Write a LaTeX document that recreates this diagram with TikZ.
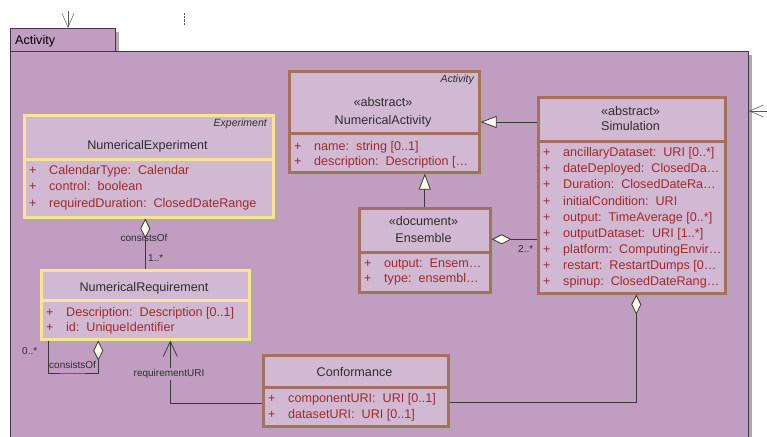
\documentclass[tikz,border=0pt]{standalone}
\usepackage{fontspec}
\setmainfont{Liberation Sans}
\usepackage{xcolor}
\usetikzlibrary{arrows.meta,shadows}
\definecolor{pkgfill}{HTML}{C19DC2}
\definecolor{pkgline}{HTML}{3C3C3C}
\definecolor{clsfill}{HTML}{D1B9D3}
\definecolor{brownc}{HTML}{A66F5E}
\definecolor{yellowc}{HTML}{F9E394}
\definecolor{shadowc}{HTML}{ADA9AD}
\definecolor{attrred}{HTML}{A02A2A}
\definecolor{namec}{HTML}{2E2E2E}
\definecolor{cream}{HTML}{FFFDE8}
\definecolor{conline}{HTML}{3A3A3A}
\def\pl{\makebox[20pt][l]{+}}
\def\big{\fontsize{12.6}{15}\selectfont}
\tikzset{pkg/.style={draw=pkgline, fill=pkgfill, line width=0.9pt, inner sep=0pt, anchor=north west,
    drop shadow={shadow xshift=3.5pt, shadow yshift=-3.5pt, fill=shadowc, opacity=1}}}
\tikzset{clsbox/.style={draw=#1, fill=clsfill, line width=2.6pt, inner sep=0pt, anchor=north west,
    drop shadow={shadow xshift=3.5pt, shadow yshift=-3.5pt, fill=shadowc, opacity=1}}}
\tikzset{cname/.style={font=\big, text=namec, inner sep=0pt, anchor=base}}
\tikzset{stereo/.style={font=\fontsize{10.5}{12}\selectfont\itshape, text=namec, inner sep=0pt, anchor=base east}}
\tikzset{attr/.style={font=\big, text=attrred, inner sep=0pt, anchor=base west}}
\tikzset{lbl/.style={font=\fontsize{10}{12}\selectfont, text=namec, inner sep=0pt}}
\tikzset{gen/.style={draw=conline, line width=0.8pt, -{Triangle[length=16pt, width=12pt, fill=cream]}}}
\tikzset{agg/.style={draw=conline, line width=0.8pt, {Diamond[length=20pt, width=10pt, fill=cream]}-}}
\tikzset{assoc/.style={draw=conline, line width=0.8pt, -{Straight Barb[length=15pt, width=14pt]}}}
\tikzset{dep/.style={draw=black!65, line width=0.5pt, -{Straight Barb[length=14pt, width=12pt]}}}
\begin{document}
\begin{tikzpicture}[x=1pt, y=-1pt]
      \clip (0,0) rectangle (767,436);
      % package
      \node[pkg, minimum width=105pt, minimum height=23pt] (tab) at (10,28) {};
      \node[pkg, minimum width=738pt, minimum height=400pt] (pkg) at (10,51) {};
      \node[font=\big, inner sep=0pt, anchor=base west] (tabname) at (15,45) {Activity};
      \coordinate (tin) at (68,11);
      \draw[dep] (tin) -- (tin |- tab.north);
      \coordinate (dt1) at (184,13);
      \coordinate (dt2) at (184,25);
      \draw[black!65, densely dotted] (dt1) -- (dt2);
      \coordinate (rin) at (767,111);
      \draw[dep] (rin) -- (rin -| pkg.east);
      % NumericalActivity
      \node[clsbox=brownc, minimum width=190pt, minimum height=62pt] (na) at (288,70) {};
      \node[clsbox=brownc, minimum width=190pt, minimum height=39pt] (naa) at (288,132) {};
      \node[stereo] (na-s) at (474,82.5) {Activity};
      \node[cname] (na-t) at (383,106.7) {«abstract»};
      \node[cname] (na-n) at (383,124) {NumericalActivity};
      \node[attr] (na-a1) at (294,150.5) {\pl name:\ \ string [0..1]};
      \node[attr] (na-a2) at (294,165.5) {\pl description:\ \ Description […};
      % Simulation
      \node[clsbox=brownc, minimum width=187pt, minimum height=44pt] (sim) at (537,96) {};
      \node[clsbox=brownc, minimum width=187pt, minimum height=152pt] (sima) at (537,140) {};
      \node[cname] (sim-t) at (630.5,115) {«abstract»};
      \node[cname] (sim-n) at (630.5,130.7) {Simulation};
      \node[attr] (sim-a1) at (543,156.7) {\pl ancillaryDataset:\ \ URI [0..*]};
      \node[attr] (sim-a2) at (543,172.8) {\pl dateDeployed:\ \ ClosedDa…};
      \node[attr] (sim-a3) at (543,188.9) {\pl Duration:\ \ ClosedDateRa…};
      \node[attr] (sim-a4) at (543,205) {\pl initialCondition:\ \ URI};
      \node[attr] (sim-a5) at (543,221.1) {\pl output:\ \ TimeAverage [0..*]};
      \node[attr] (sim-a6) at (543,237.2) {\pl outputDataset:\ \ URI [1..*]};
      \node[attr] (sim-a7) at (543,253.3) {\pl platform:\ \ ComputingEnvir…};
      \node[attr] (sim-a8) at (543,269.4) {\pl restart:\ \ RestartDumps [0…};
      \node[attr] (sim-a9) at (543,285.5) {\pl spinup:\ \ ClosedDateRang…};
      % NumericalExperiment
      \node[clsbox=yellowc, minimum width=249pt, minimum height=44pt] (ne) at (23,114) {};
      \node[clsbox=yellowc, minimum width=249pt, minimum height=58pt] (nea) at (23,158) {};
      \node[stereo] (ne-s) at (267,126.5) {Experiment};
      \node[cname] (ne-n) at (147.5,149) {NumericalExperiment};
      \node[attr] (ne-a1) at (29,174) {\pl CalendarType:\ \ Calendar};
      \node[attr] (ne-a2) at (29,190.5) {\pl control:\ \ boolean};
      \node[attr] (ne-a3) at (29,207) {\pl requiredDuration:\ \ ClosedDateRange};
      % NumericalRequirement
      \node[clsbox=yellowc, minimum width=208pt, minimum height=30pt] (nr) at (40,269) {};
      \node[clsbox=yellowc, minimum width=208pt, minimum height=39pt] (nra) at (40,299) {};
      \node[cname] (nr-n) at (144,291) {NumericalRequirement};
      \node[attr] (nr-a1) at (46,316) {\pl Description:\ \ Description [0..1]};
      \node[attr] (nr-a2) at (46,331.7) {\pl id:\ \ UniqueIdentifier};
      % Ensemble
      \node[clsbox=brownc, minimum width=131pt, minimum height=44pt] (ens) at (358,207) {};
      \node[clsbox=brownc, minimum width=131pt, minimum height=40pt] (ensa) at (358,251) {};
      \node[cname] (ens-t) at (423.5,225.7) {«document»};
      \node[cname] (ens-n) at (423.5,242.3) {Ensemble};
      \node[attr] (ens-a1) at (364,267.3) {\pl output:\ \ Ensem…};
      \node[attr] (ens-a2) at (364,282.7) {\pl type:\ \ ensembl…};
      % Conformance
      \node[clsbox=brownc, minimum width=185pt, minimum height=32pt] (conf) at (262,354) {};
      \node[clsbox=brownc, minimum width=185pt, minimum height=39pt] (confa) at (262,386) {};
      \node[cname] (conf-n) at (354.5,376) {Conformance};
      \node[attr] (conf-a1) at (268,402.3) {\pl componentURI:\ \ URI [0..1]};
      \node[attr] (conf-a2) at (268,418) {\pl datasetURI:\ \ URI [0..1]};
      % connectors
      \draw[gen] ([yshift=-26pt]sim.north west) -- ([yshift=-26pt]sim.north west -| naa.east);
      \draw[gen] (ens.north) -- (ens.north |- naa.south);
      \draw[agg] ([yshift=-9pt]ens.east) -- ([yshift=-9pt]ens.east -| sima.west);
      \node[lbl, anchor=base west] (m-ens) at (518,252) {2..*};
      \draw[agg] ([xshift=-3.5pt]nea.south) -- ([xshift=-3.5pt]nea.south |- nr.north);
      \node[lbl, anchor=base] (r-ne) at (144,241.7) {consistsOf};
      \node[lbl, anchor=base west] (m-ne) at (148,261.7) {1..*};
      \coordinate (selfc) at (72,373);
      \draw[agg] ([xshift=-47pt]nra.south) |- (selfc) -| ([xshift=-97pt]nra.south);
      \node[lbl, anchor=base west] (m-self) at (22,354) {0..*};
      \node[lbl, anchor=base west] (r-self) at (49,368) {consistsOf};
      \draw[assoc] ([yshift=3.5pt]confa.west) -| ([xshift=25pt]nra.south);
      \node[lbl, anchor=base, fill=pkgfill, inner sep=1.5pt] (r-conf) at (169,376.7) {requirementURI};
      \draw[agg] ([xshift=4.5pt]sima.south) |- ([yshift=4.5pt]confa.east);
      \end{tikzpicture}
\end{document}
